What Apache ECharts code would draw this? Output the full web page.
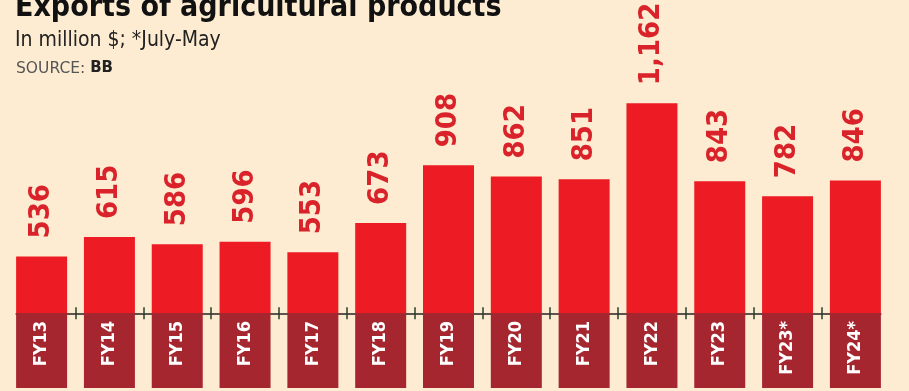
<!DOCTYPE html>
<html><head><meta charset="utf-8">
<script src="https://cdn.jsdelivr.net/npm/echarts@6/dist/echarts.min.js"></script>
<style>html,body{margin:0;padding:0;background:#fdecd1}#c{width:909px;height:391px}</style>
</head><body><div id="c"></div>
<script>
const categories = ['FY13','FY14','FY15','FY16','FY17','FY18','FY19','FY20','FY21','FY22','FY23','FY23*','FY24*'];
const exportsValues = [536,615,586,596,553,673,908,862,851,1162,843,782,846];
const titleText = 'Exports of agricultural products';
const subtitleText = 'In million $; *July-May';
const sourceText = 'SOURCE: {b|BB}';
const yMin = 305, yMax = 1420;

const W = 909;
const gridLeft = 7.7, gridRight = 19.7, gridTop = 40, gridBottom = 77.7;
const band = (W - gridLeft - gridRight) / categories.length;
const barW = 51;
const narrow = "'DejaVu Sans Condensed','Liberation Sans Narrow',sans-serif";

const chart = echarts.init(document.getElementById('c'), null, {renderer: 'canvas'});
const hiddenY = (i) => ({gridIndex: i, type: 'value', min: 0, max: 1, show: false});
chart.setOption({
  backgroundColor: '#fdecd1',
  animation: false,
  title: [
    {text: titleText, left: 15, top: -7, padding: 0,
     textStyle: {fontFamily: narrow, fontWeight: 'bold', fontSize: 30, lineHeight: 30, color: '#111'}},
    {text: subtitleText, left: 15, top: 30, padding: 0,
     textStyle: {fontFamily: narrow, fontWeight: 'normal', fontSize: 21, lineHeight: 21, color: '#222'}},
    {text: sourceText, left: 16, top: 61, padding: 0,
     textStyle: {fontFamily: 'DejaVu Sans', fontWeight: 'normal', fontSize: 15.5, lineHeight: 15, color: '#555',
       rich: {b: {fontFamily: 'DejaVu Sans', fontWeight: 'bold', fontSize: 15, lineHeight: 15, color: '#222'}}}}
  ],
  grid: [
    {left: gridLeft, right: gridRight, top: gridTop, bottom: gridBottom},
    {left: gridLeft + band / 2 - barW / 2, right: gridRight + band / 2 - barW / 2, top: gridTop, bottom: gridBottom},
    {left: gridLeft + band, right: gridRight + band, top: gridTop, bottom: gridBottom}
  ],
  xAxis: [
    {gridIndex: 0, type: 'category', data: categories, boundaryGap: true, z: 5,
     axisLine: {show: false, onZero: false}, axisTick: {show: false},
     axisLabel: {interval: 0, rotate: 90, margin: 0, hideOverlap: false,
       color: '#fff', fontFamily: narrow, fontWeight: 'bold', fontSize: 18,
       backgroundColor: '#a5262f', width: 67, height: barW, lineHeight: barW,
       padding: [0, 8, 0, 0], align: 'right', verticalAlign: 'middle'}},
    {gridIndex: 1, type: 'value', min: 0, max: 1, z: 5,
     axisLine: {show: true, onZero: false, lineStyle: {color: '#2b2222', width: 1.5}},
     axisTick: {show: false}, axisLabel: {show: false}, splitLine: {show: false}},
    {gridIndex: 2, type: 'value', min: 0, max: categories.length - 2, interval: 1, offset: -6, z: 5,
     axisLine: {show: false, onZero: false},
     axisTick: {show: true, length: 12, lineStyle: {color: '#24402c', width: 1.5}},
     axisLabel: {show: false}, splitLine: {show: false}}
  ],
  yAxis: [
    {gridIndex: 0, type: 'value', min: yMin, max: yMax, show: false},
    hiddenY(1), hiddenY(2)
  ],
  series: [{
    type: 'bar', xAxisIndex: 0, yAxisIndex: 0, data: exportsValues, barWidth: barW,
    itemStyle: {color: '#ed1c24'},
    label: {show: true, position: 'top', distance: 18, rotate: 90, align: 'left', verticalAlign: 'middle',
      formatter: (p) => p.value.toLocaleString('en-US'),
      fontFamily: narrow, fontWeight: 'bold', fontSize: 29, color: '#d9222a'}
  }]
});
</script></body></html>
